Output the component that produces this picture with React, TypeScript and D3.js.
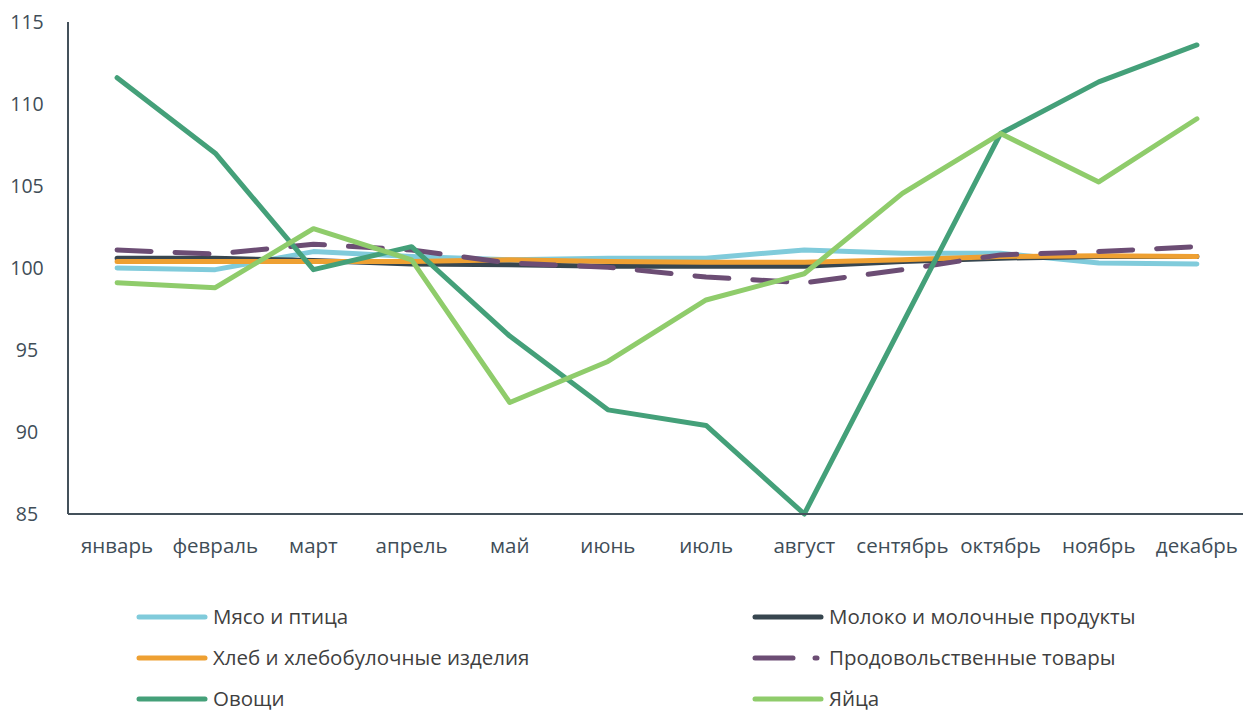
import React, { useEffect, useRef } from 'react';
import * as d3 from 'd3';

const months = ['январь', 'февраль', 'март', 'апрель', 'май', 'июнь', 'июль', 'август', 'сентябрь', 'октябрь', 'ноябрь', 'декабрь'];

const meat = [100.0, 99.9, 101.0, 100.7, 100.5, 100.6, 100.6, 101.1, 100.9, 100.9, 100.3, 100.25];
const milk = [100.6, 100.6, 100.45, 100.25, 100.2, 100.1, 100.1, 100.1, 100.4, 100.6, 100.7, 100.7];
const bread = [100.4, 100.4, 100.4, 100.4, 100.5, 100.4, 100.35, 100.35, 100.5, 100.7, 100.75, 100.7];
const food = [101.1, 100.85, 101.45, 101.1, 100.3, 100.05, 99.45, 99.1, 99.9, 100.8, 101.0, 101.3];
const vegetables = [111.6, 107.0, 99.9, 101.3, 95.85, 91.35, 90.4, 85.0, 96.6, 108.2, 111.35, 113.6];
const eggs = [99.1, 98.8, 102.4, 100.5, 91.8, 94.3, 98.05, 99.65, 104.55, 108.2, 105.25, 109.1];

const yTicks = [85, 90, 95, 100, 105, 110, 115];

const series = [
  { name: 'Мясо и птица', values: meat, color: '#80CBDB', dash: null },
  { name: 'Молоко и молочные продукты', values: milk, color: '#37464F', dash: null },
  { name: 'Хлеб и хлебобулочные изделия', values: bread, color: '#EEA032', dash: null },
  { name: 'Продовольственные товары', values: food, color: '#6C4D74', dash: '34 24' },
  { name: 'Овощи', values: vegetables, color: '#44A079', dash: null },
  { name: 'Яйца', values: eggs, color: '#8FCC6B', dash: null },
];

const App = () => {
  const ref = useRef<SVGSVGElement>(null);

  useEffect(() => {
    const svg = d3.select(ref.current);
    svg.selectAll('*').remove();

    const left = 68, right = 1246, top = 22, bottom = 514;
    const font = '"Open Sans", sans-serif';
    const textColor = '#404D57';

    const x = d3.scalePoint().domain(months).range([left, right]).padding(0.5);
    const y = d3.scaleLinear().domain([85, 115]).range([bottom, top]);

    // y tick labels
    svg.append('g')
      .selectAll('text')
      .data(yTicks)
      .enter().append('text')
      .attr('x', 27)
      .attr('y', d => y(d))
      .attr('dy', '0.35em')
      .attr('text-anchor', 'middle')
      .attr('font-family', font)
      .attr('font-size', 19.5)
      .attr('fill', textColor)
      .text(d => d);

    // x labels
    svg.append('g')
      .selectAll('text')
      .data(months)
      .enter().append('text')
      .attr('x', d => x(d)!)
      .attr('y', 553)
      .attr('text-anchor', 'middle')
      .attr('font-family', font)
      .attr('font-size', 20.5)
      .attr('fill', textColor)
      .text(d => d);

    const line = d3.line<number>()
      .x((_, i) => x(months[i])!)
      .y(d => y(d));

    series.forEach(s => {
      svg.append('path')
        .datum(s.values)
        .attr('d', line)
        .attr('fill', 'none')
        .attr('stroke', s.color)
        .attr('stroke-width', 5)
        .attr('stroke-linejoin', 'round')
        .attr('stroke-linecap', 'round')
        .attr('stroke-dasharray', s.dash);
    });

    // axes lines
    svg.append('line')
      .attr('x1', left).attr('x2', left).attr('y1', top).attr('y2', bottom)
      .attr('stroke', '#44515B').attr('stroke-width', 2);
    svg.append('line')
      .attr('x1', left).attr('x2', 1243).attr('y1', bottom).attr('y2', bottom)
      .attr('stroke', '#44515B').attr('stroke-width', 2);

    // legend
    const legend = svg.append('g');
    series.forEach((s, i) => {
      const col = i % 2;
      const row = Math.floor(i / 2);
      const lx = col === 0 ? 139 : 755;
      const ly = 617 + row * 41;
      const g = legend.append('g');
      if (s.dash) {
        g.append('line')
          .attr('x1', lx).attr('x2', lx + 38).attr('y1', ly).attr('y2', ly)
          .attr('stroke', s.color).attr('stroke-width', 5).attr('stroke-linecap', 'round');
        g.append('line')
          .attr('x1', lx + 60).attr('x2', lx + 62).attr('y1', ly).attr('y2', ly)
          .attr('stroke', s.color).attr('stroke-width', 5).attr('stroke-linecap', 'round');
      } else {
        g.append('line')
          .attr('x1', lx).attr('x2', lx + 66).attr('y1', ly).attr('y2', ly)
          .attr('stroke', s.color).attr('stroke-width', 5).attr('stroke-linecap', 'round');
      }
      g.append('text')
        .attr('x', lx + 74)
        .attr('y', ly)
        .attr('dy', '0.33em')
        .attr('font-family', font)
        .attr('font-size', 20.5)
        .attr('fill', '#3F3F3F')
        .text(s.name);
    });
  }, []);

  return (
    <svg
      ref={ref}
      width={1243}
      height={711}
      style={{ position: 'absolute', left: 0, top: 0, background: '#fff' }}
    />
  );
};

export default App;
